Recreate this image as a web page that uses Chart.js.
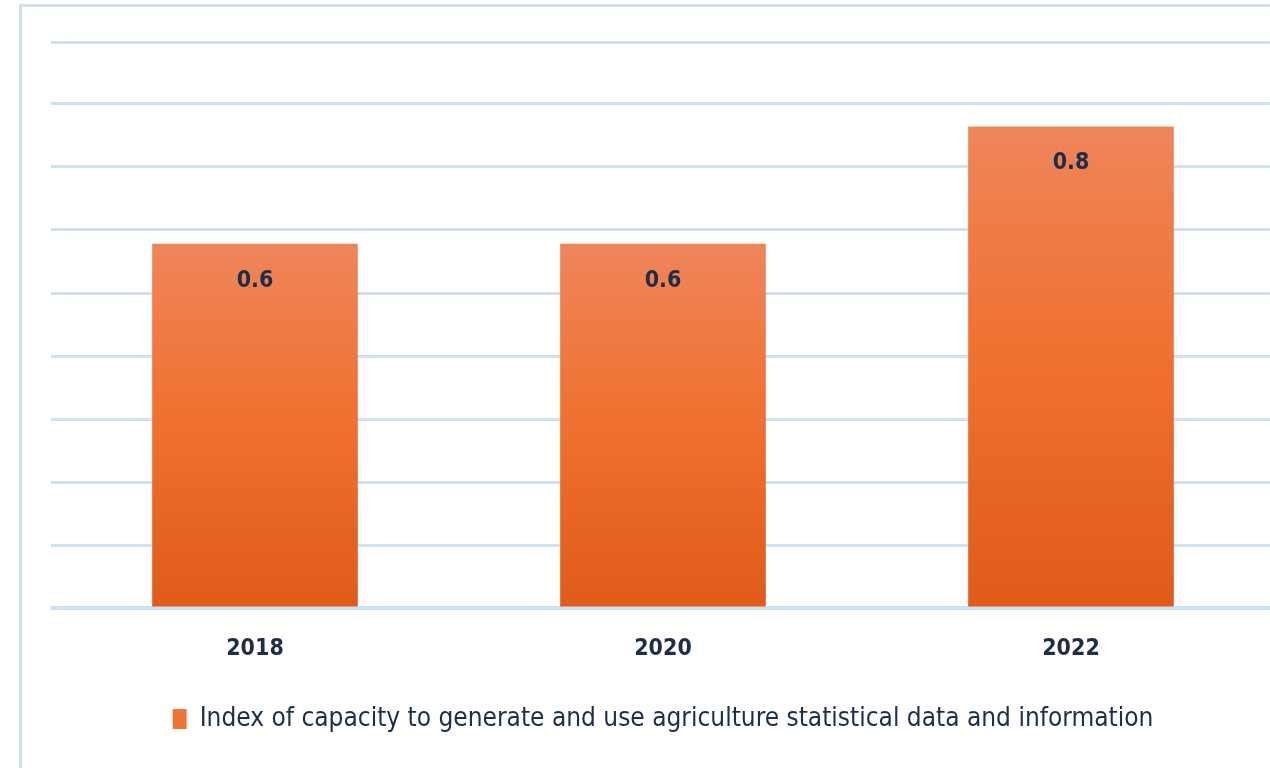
<!DOCTYPE html>
<html>
<head>
<meta charset="utf-8">
<script src="https://cdn.jsdelivr.net/npm/chart.js@4.4.1/dist/chart.umd.min.js"></script>
<style>
  html, body { margin: 0; padding: 0; background: #fff; overflow: hidden; }
  #frame {
    position: absolute; left: 19px; top: 4px; width: 1300px; height: 800px;
    border-left: 3px solid #cfe0f3; border-top: 3px solid #cfe0f3;
  }
  #chartCanvas { position: absolute; left: 0; top: 0; }
</style>
</head>
<body>
<div id="frame"></div>
<canvas id="chartCanvas" width="1276" height="768"></canvas>
<script>
const years = ["2018", "2020", "2022"];
const capacityIndex = [0.578, 0.578, 0.764];
const seriesLabel = "Index of capacity to generate and use agriculture statistical data and information";
const axisMax = 0.898;
const gridStep = 0.1;

const navy = "#1b2e4a";
const gridBlue = "#cfe0f3";
const fontFamily = "'Liberation Sans Narrow', 'DejaVu Sans Condensed', 'Open Sans', sans-serif";

function barGradient(context) {
  const chart = context.chart;
  if (!chart.chartArea || context.raw == null) return "#f07030";
  const y = chart.scales.y;
  const top = y.getPixelForValue(context.raw);
  const bottom = y.getPixelForValue(0);
  const g = chart.ctx.createLinearGradient(0, top, 0, bottom);
  g.addColorStop(0, "#ee855a");
  g.addColorStop(0.45, "#f07232");
  g.addColorStop(1, "#e05b19");
  return g;
}

// value labels inside the top of each bar
const barLabels = {
  id: "barLabels",
  afterDatasetsDraw(chart) {
    const ctx = chart.ctx;
    const meta = chart.getDatasetMeta(0);
    ctx.save();
    ctx.font = "bold 23px " + fontFamily;
    ctx.fillStyle = navy;
    ctx.textAlign = "center";
    ctx.textBaseline = "middle";
    meta.data.forEach((bar, i) => {
      ctx.fillText(capacityIndex[i].toFixed(1), bar.x, bar.y + 37);
    });
    ctx.restore();
  },
};

const chart = new Chart(document.getElementById("chartCanvas"), {
  type: "bar",
  data: {
    labels: years,
    datasets: [
      {
        label: seriesLabel,
        data: capacityIndex,
        backgroundColor: barGradient,
        borderWidth: 0,
        categoryPercentage: 1,
        barPercentage: 0.504,
      },
    ],
  },
  options: {
    responsive: false,
    animation: false,
    layout: { padding: { top: 42, left: 51, right: 1, bottom: 26 } },
    scales: {
      x: {
        grid: { display: false, drawTicks: false },
        border: { display: false },
        ticks: {
          padding: 27,
          color: navy,
          font: { family: fontFamily, size: 23, weight: "bold" },
        },
      },
      y: {
        min: 0,
        max: axisMax,
        afterBuildTicks: (scale) => {
          const ticks = [];
          for (let v = 0; v < axisMax - 0.01; v += gridStep) ticks.push({ value: +v.toFixed(2) });
          ticks.push({ value: axisMax });
          scale.ticks = ticks;
        },
        ticks: { display: false },
        grid: {
          color: gridBlue,
          lineWidth: (ctx) => (ctx.tick && ctx.tick.value === 0 ? 4 : 3),
          drawTicks: false,
        },
        border: { display: false },
      },
    },
    plugins: {
      tooltip: { enabled: false },
      legend: {
        position: "bottom",
        labels: {
          boxWidth: 14,
          boxHeight: 20,
          padding: 16,
          color: navy,
          font: { family: fontFamily, size: 26 },
          generateLabels: () => [
            {
              text: seriesLabel,
              fillStyle: "#ee7538",
              strokeStyle: "#ee7538",
              fontColor: navy,
              lineWidth: 0,
              hidden: false,
              datasetIndex: 0,
            },
          ],
        },
      },
    },
  },
  plugins: [barLabels],
});
</script>
</body>
</html>
